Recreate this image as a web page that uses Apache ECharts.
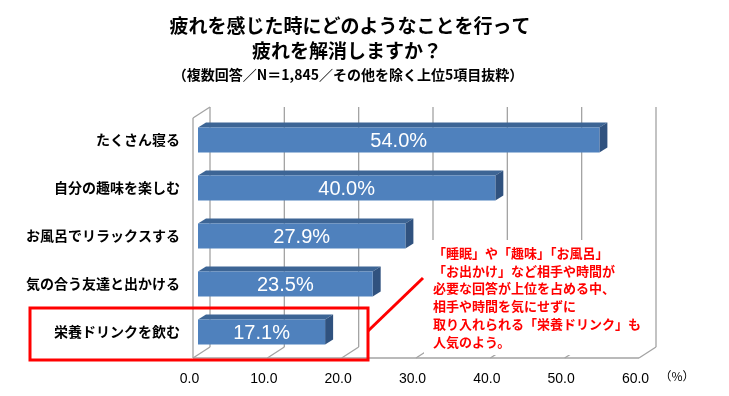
<!DOCTYPE html>
<html>
<head>
<meta charset="utf-8">
<script src="https://cdn.jsdelivr.net/npm/echarts@6/dist/echarts.min.js"></script>
<style>
  html, body { margin: 0; padding: 0; background: #fff; }
  #chart { width: 729px; height: 396px; }
</style>
</head>
<body>
<div id="chart"></div>
<script>
const categories = ['たくさん寝る', '自分の趣味を楽しむ', 'お風呂でリラックスする', '気の合う友達と出かける', '栄養ドリンクを飲む'];
const values = [54.0, 40.0, 27.9, 23.5, 17.1];
const tickValues = [0, 10, 20, 30, 40, 50, 60];
const titleLines = ['疲れを感じた時にどのようなことを行って', '疲れを解消しますか？'];
const subtitle = '（複数回答／N＝1,845／その他を除く上位5項目抜粋）';
const noteLines = ['「睡眠」や「趣味」「お風呂」', '「お出かけ」など相手や時間が', '必要な回答が上位を占める中、', '相手や時間を気にせずに', '取り入れられる「栄養ドリンク」も', '人気のよう。'];
const unitLabel = '（%）';

const JP = '"Noto Sans CJK JP", "Noto Sans", sans-serif';
const LAT = '"Liberation Sans", Arial, sans-serif';

const chart = echarts.init(document.getElementById('chart'), null, { renderer: 'canvas' });

const BX = 12, BY = -9, FX = -5, FY = 2;
const gridStyle = { stroke: '#A3A3A3', lineWidth: 1.3, fill: null };
const xMin = tickValues[0], xMax = tickValues[tickValues.length - 1];

function renderFrame(params, api) {
  const v = api.value(0);
  const cs = params.coordSys;
  const top = cs.y, bottom = cs.y + cs.height;
  const x = api.coord([v, 0])[0];
  const children = [
    { type: 'line', shape: { x1: x + BX, y1: top + BY, x2: x + BX, y2: bottom + BY }, style: gridStyle },
    { type: 'line', shape: { x1: x + BX, y1: bottom + BY, x2: x + FX, y2: bottom + FY }, style: gridStyle }
  ];
  if (v === xMin) {
    const xe = api.coord([xMax, 0])[0];
    children.push({ type: 'line', shape: { x1: x + FX, y1: top + FY, x2: x + FX, y2: bottom + FY }, style: gridStyle });
    children.push({ type: 'line', shape: { x1: x + FX, y1: top + FY, x2: x + BX, y2: top + BY }, style: gridStyle });
    children.push({ type: 'line', shape: { x1: x + FX, y1: bottom + FY, x2: xe + FX, y2: bottom + FY }, style: gridStyle });
  }
  return { type: 'group', children };
}

function renderBar(params, api) {
  const v = api.value(0), i = api.value(1);
  const s = api.coord([0, i]), e = api.coord([v, i]);
  const h = 25, dx = 8, dy = -5;
  const y0 = s[1] - h / 2, y1 = s[1] + h / 2;
  return {
    type: 'group',
    children: [
      { type: 'polygon', shape: { points: [[s[0], y0], [s[0] + dx, y0 + dy], [e[0] + dx, y0 + dy], [e[0], y0]] }, style: { fill: '#3D6595' } },
      { type: 'polygon', shape: { points: [[e[0], y0], [e[0] + dx, y0 + dy], [e[0] + dx, y1 + dy], [e[0], y1]] }, style: { fill: '#30527F' } },
      { type: 'rect', shape: { x: s[0], y: y0, width: e[0] - s[0], height: h }, style: { fill: '#4F81BD' } },
      { type: 'text', x: (s[0] + e[0]) / 2, y: s[1] + 1, style: { text: v.toFixed(1) + '%', fill: '#ffffff', fontSize: 20, fontFamily: LAT, align: 'center', verticalAlign: 'middle' } }
    ]
  };
}

const option = {
  animation: false,
  backgroundColor: '#ffffff',
  grid: { left: 198, right: 85, top: 116, height: 240, containLabel: false },
  xAxis: {
    type: 'value', min: 0, max: 60, interval: 10,
    axisLine: { show: false }, axisTick: { show: false }, splitLine: { show: false },
    axisLabel: { formatter: v => v.toFixed(1), fontSize: 14, fontFamily: LAT, color: '#000', margin: 16, padding: [0, 17, 0, 0] }
  },
  yAxis: {
    type: 'category', data: categories, inverse: true,
    axisLine: { show: false }, axisTick: { show: false }, splitLine: { show: false },
    axisLabel: { fontSize: 14, fontWeight: 'bold', fontFamily: JP, color: '#000', margin: 18, padding: [4, 0, 0, 0] }
  },
  series: [
    { type: 'custom', name: 'frame', silent: true, z: 1, renderItem: renderFrame, encode: { x: 0, y: 1 }, data: tickValues.map(v => [v, 0]) },
    { type: 'custom', name: 'bars', silent: true, z: 3, renderItem: renderBar, encode: { x: 0, y: 1 }, data: values.map((v, i) => [v, i]) }
  ],
  graphic: [
    { type: 'text', x: 350, y: 26, z: 10, style: { text: titleLines[0], fontSize: 19, fontWeight: 'bold', fontFamily: JP, fill: '#000', align: 'center', verticalAlign: 'middle' } },
    { type: 'text', x: 347, y: 51, z: 10, style: { text: titleLines[1], fontSize: 19, fontWeight: 'bold', fontFamily: JP, fill: '#000', align: 'center', verticalAlign: 'middle' } },
    { type: 'text', x: 348, y: 75, z: 10, style: { text: subtitle, fontSize: 14, fontWeight: 'bold', fontFamily: JP, fill: '#000', align: 'center', verticalAlign: 'middle' } },
    { type: 'rect', z: 5, shape: { x: 424, y: 240, width: 216, height: 115 }, style: { fill: '#ffffff' } },
    { type: 'text', x: 433, y: 244, z: 10, style: { text: noteLines.join('\n'), fontSize: 13, lineHeight: 17.8, fontWeight: 'bold', fontFamily: JP, fill: '#FF0000', align: 'left', verticalAlign: 'top' } },
    { type: 'rect', z: 12, shape: { x: 30, y: 308, width: 338, height: 52 }, style: { fill: null, stroke: '#FF0000', lineWidth: 3 } },
    { type: 'line', z: 12, shape: { x1: 368, y1: 331, x2: 423, y2: 278 }, style: { stroke: '#FF0000', lineWidth: 3 } },
    { type: 'text', x: 677, y: 376, z: 10, style: { text: unitLabel, fontSize: 12, fontFamily: JP, fill: '#000', align: 'center', verticalAlign: 'middle' } }
  ]
};
chart.setOption(option);
</script>
</body>
</html>
